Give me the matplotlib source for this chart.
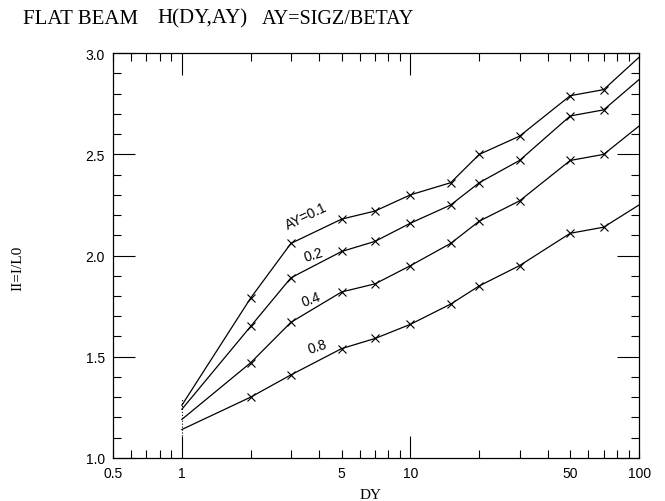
import numpy as np
import matplotlib
matplotlib.use("Agg")
from matplotlib import pyplot as plt
from matplotlib.ticker import FixedLocator, LogLocator, MultipleLocator, NullFormatter

# DY values of the calculation
DY = np.array([1, 2, 3, 5, 7, 10, 15, 20, 30, 50, 70, 100])

# H(DY,AY) for the four AY values
H_01 = np.array([1.26, 1.79, 2.06, 2.18, 2.22, 2.30, 2.36, 2.50, 2.59, 2.79, 2.82, 2.98])
H_02 = np.array([1.24, 1.65, 1.89, 2.02, 2.07, 2.16, 2.25, 2.36, 2.47, 2.69, 2.72, 2.87])
H_04 = np.array([1.19, 1.47, 1.67, 1.82, 1.86, 1.95, 2.06, 2.17, 2.27, 2.47, 2.50, 2.64])
H_08 = np.array([1.14, 1.30, 1.41, 1.54, 1.59, 1.66, 1.76, 1.85, 1.95, 2.11, 2.14, 2.25])

curves = [H_01, H_02, H_04, H_08]
labels = ["AY=0.1", "0.2", "0.4", "0.8"]
# label anchor (DY, H) and angle
lab_pos = [(2.95, 2.12, 26), (3.5, 1.96, 17), (3.45, 1.735, 20), (3.65, 1.505, 18)]

xticks = [0.5, 1, 5, 10, 50, 100]
xticklabels = ["0.5", "1", "5", "10", "50", "100"]
yticks = [1.0, 1.5, 2.0, 2.5, 3.0]
yticklabels = ["1.0", "1.5", "2.0", "2.5", "3.0"]

serif = "Liberation Serif"
sans = "Liberation Sans"

fig = plt.figure(figsize=(6.65, 5.02), dpi=100)
ax = fig.add_axes([0.170, 0.086, 0.791, 0.806])

for h in curves:
    ax.plot(DY, h, color="black", lw=0.9)
    ax.plot(DY[1:-1], h[1:-1], ls="none", marker="x", ms=6, mew=0.8, color="black")

# dotted stub joining the curve starts
start = np.array([h[0] for h in curves])
ax.vlines(DY[0], start.min() - 0.03, start.max() + 0.03, colors="black", lw=0.8, linestyles=":")

for (x, y, rot), txt in zip(lab_pos, labels):
    ax.text(x, y, txt, rotation=rot, rotation_mode="anchor", fontsize=10,
            fontfamily=sans, ha="left", va="bottom")

ax.set_xscale("log")
ax.set_xlim(0.5, 100)
ax.set_ylim(1.0, 3.0)

ax.xaxis.set_major_locator(FixedLocator(xticks))
ax.set_xticklabels(xticklabels)
ax.xaxis.set_minor_locator(LogLocator(base=10, subs=np.arange(2, 10)))
ax.xaxis.set_minor_formatter(NullFormatter())
ax.set_yticks(yticks)
ax.set_yticklabels(yticklabels)
ax.yaxis.set_minor_locator(MultipleLocator(0.1))

ax.tick_params(which="both", direction="in", top=True, right=True, width=0.8,
               labelsize=10, pad=6)
ax.tick_params(which="major", length=16)
ax.tick_params(which="minor", length=6)
# only the decade ticks are long on the x axis
for t, v in zip(ax.xaxis.get_major_ticks(), xticks):
    if v not in (1, 10):
        t.tick1line.set_markersize(6)
        t.tick2line.set_markersize(6)
for lab in ax.get_xticklabels() + ax.get_yticklabels():
    lab.set_fontfamily(sans)
for s in ax.spines.values():
    s.set_linewidth(0.9)

ax.set_xlabel("DY", fontfamily=serif, fontsize=11)
ax.xaxis.set_label_coords(0.49, -0.075)
ax.set_ylabel("II=I/L0", fontfamily=serif, fontsize=11)
ax.yaxis.set_label_coords(-0.168, 0.47)

fig.text(0.034, 0.962, "FLAT BEAM", fontfamily=serif, fontsize=15, ha="left", va="center")
fig.text(0.236, 0.962, "H(DY,AY)", fontfamily=serif, fontsize=15, ha="left", va="center")
fig.text(0.394, 0.962, "AY=SIGZ/BETAY", fontfamily=serif, fontsize=14.5, ha="left", va="center")

fig.savefig("out.png", dpi=100)
